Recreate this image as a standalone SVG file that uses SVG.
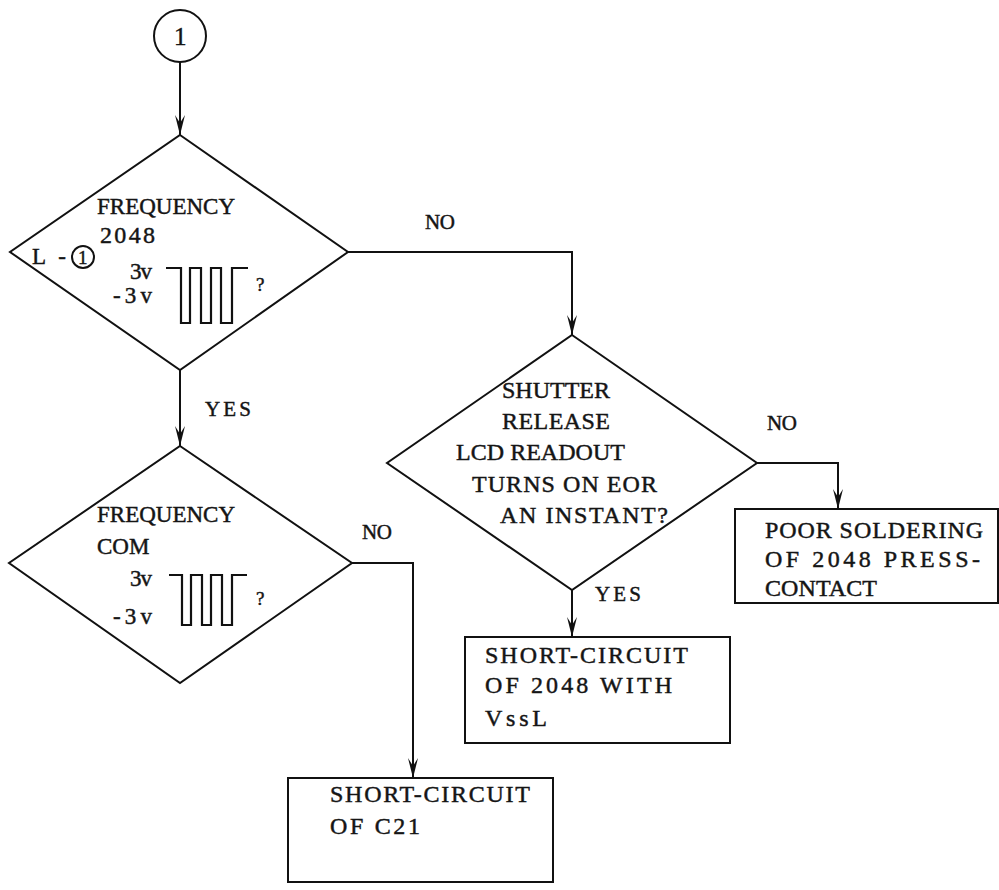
<svg xmlns="http://www.w3.org/2000/svg" width="999" height="890" viewBox="0 0 999 890">
<style>
.s{fill:none;stroke:#111;stroke-width:2}
.w{fill:none;stroke:#111;stroke-width:2.2}
text{font-family:"Liberation Serif","Times New Roman",serif;font-size:24px;fill:#151515;stroke:#151515;stroke-width:0.45}
.l{font-size:21px}
.m{font-size:23px}
.f{font-size:23px}
</style>
<defs>
<marker id="b" viewBox="0 0 20 10" refX="20" refY="5" markerWidth="20" markerHeight="10" markerUnits="userSpaceOnUse" orient="auto">
<path d="M0,0 L20,5 L0,10 L8,5 Z" fill="#111"/>
</marker>
</defs>
<g id="connectors">
<path class="s" d="M180,62 V135" marker-end="url(#b)"/>
<path class="s" d="M180,370 V446" marker-end="url(#b)"/>
<path class="s" d="M348,252 H572 V335" marker-end="url(#b)"/>
<path class="s" d="M352,563 H413 V778" marker-end="url(#b)"/>
<path class="s" d="M757,463 H838 V509" marker-end="url(#b)"/>
<path class="s" d="M572,590 V637" marker-end="url(#b)"/>
<text class="l" x="425" y="229" textLength="30">NO</text>
<text class="l" x="205" y="416" textLength="46">YES</text>
<text class="l" x="362" y="539" textLength="30">NO</text>
<text class="l" x="767" y="430" textLength="30">NO</text>
<text class="l" x="595" y="601" textLength="46">YES</text>
</g>
<g id="start">
<circle class="s" cx="180" cy="36" r="26"/>
<text x="174" y="45" style="font-size:25px">1</text>
</g>
<g id="decision1">
<path class="s" d="M180,135 L348,252 L180,370 L10,252 Z"/>
<text x="97" y="214" class="f">FREQUENCY</text>
<text x="100" y="243" textLength="55">2048</text>
<text x="32" y="264" class="m" textLength="34">L-</text>
<circle class="s" cx="83" cy="257" r="11"/>
<text x="78" y="264" style="font-size:19px">1</text>
<text x="130" y="279" class="m" textLength="22">3v</text>
<text x="113" y="303" class="m" textLength="39">-3v</text>
<polyline class="w" points="166,268 181,268 181,323 190,323 190,268 201,268 201,323 211,323 211,268 221,268 221,323 232,323 232,268 248,268"/>
<text x="256" y="291" style="font-size:19px">?</text>
</g>
<g id="decision2">
<path class="s" d="M180,446 L352,563 L180,683 L9,563 Z"/>
<text x="97" y="522" class="f">FREQUENCY</text>
<text x="97" y="554" class="f">COM</text>
<text x="130" y="586" class="m" textLength="22">3v</text>
<text x="113" y="624" class="m" textLength="39">-3v</text>
<polyline class="w" points="169,575 182,575 182,625 191,625 191,575 202,575 202,625 211,625 211,575 222,575 222,625 232,625 232,575 247,575"/>
<text x="256" y="605" style="font-size:19px">?</text>
</g>
<g id="decision3">
<path class="s" d="M572,335 L757,463 L572,590 L387,463 Z"/>
<text x="502" y="398" textLength="108">SHUTTER</text>
<text x="502" y="429" textLength="108">RELEASE</text>
<text x="456" y="460" textLength="169">LCD READOUT</text>
<text x="472" y="492" textLength="185">TURNS ON EOR</text>
<text x="500" y="523" textLength="168">AN INSTANT?</text>
</g>
<g id="box-c21">
<rect class="s" x="288" y="778" width="265" height="104"/>
<text x="330" y="802" textLength="200">SHORT-CIRCUIT</text>
<text x="330" y="834" textLength="90">OF C21</text>
</g>
<g id="box-vssl">
<rect class="s" x="465" y="637" width="265" height="106"/>
<text x="485" y="663" textLength="203">SHORT-CIRCUIT</text>
<text x="485" y="693" textLength="187">OF 2048 WITH</text>
<text x="485" y="726" textLength="62">VssL</text>
</g>
<g id="box-solder">
<rect class="s" x="735" y="509" width="263" height="94"/>
<text x="765" y="538" textLength="218">POOR SOLDERING</text>
<text x="765" y="567" textLength="215">OF 2048 PRESS-</text>
<text x="765" y="596" textLength="112">CONTACT</text>
</g>
</svg>
